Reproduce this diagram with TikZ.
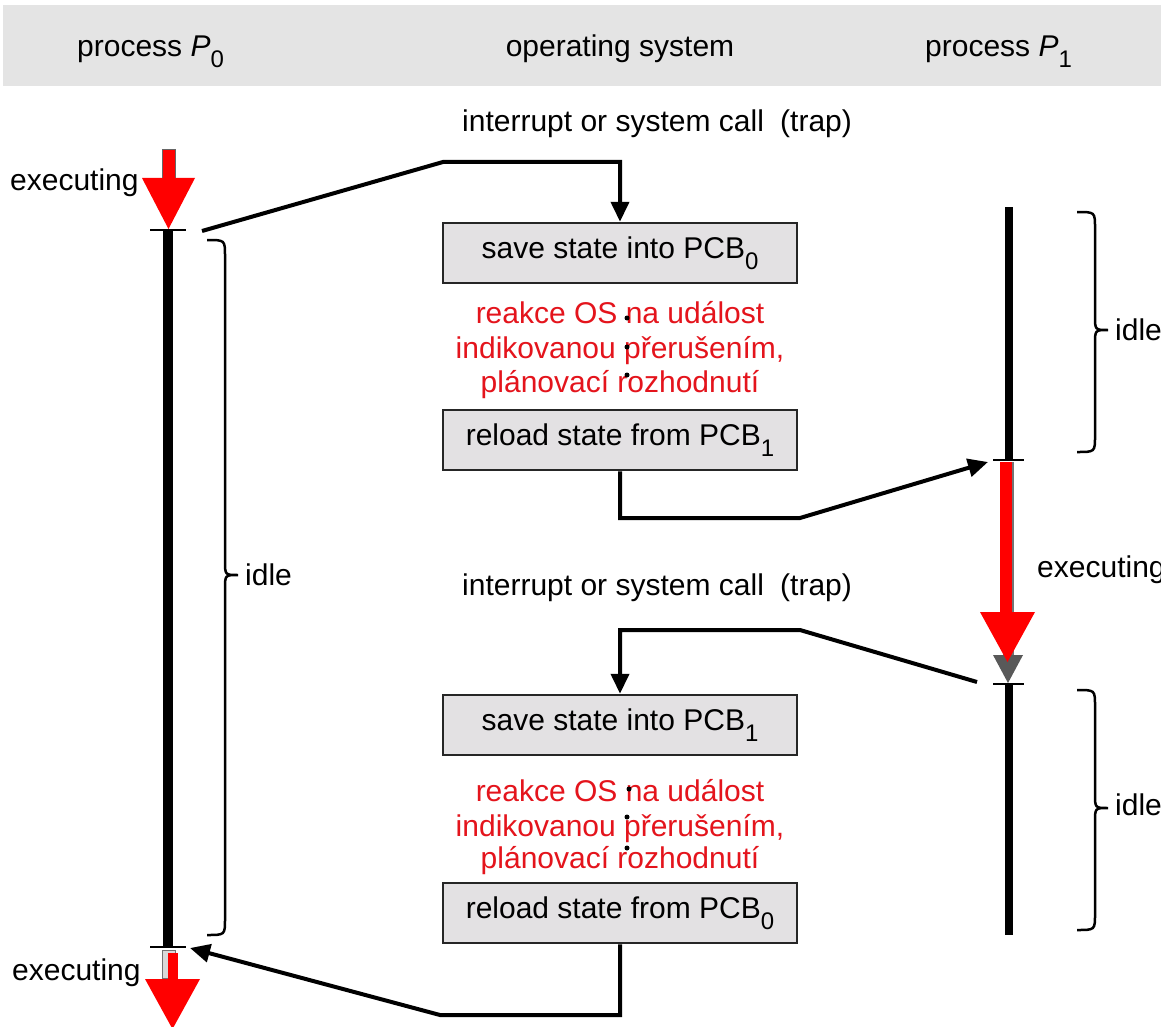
\documentclass[tikz,border=0pt]{standalone}
\usepackage{fontspec}
\setmainfont{Liberation Sans}
\usetikzlibrary{arrows.meta}
\definecolor{band}{HTML}{E4E4E4}
\definecolor{boxfill}{HTML}{E3E1E3}
\definecolor{notered}{RGB}{228,20,28}
\definecolor{runred}{RGB}{255,0,0}
% lowered index digit
\newcommand\lowsub[1]{\raisebox{-11pt}{\fontsize{24}{24}\selectfont #1}}
% right curly brace: x of the open end, top y, bottom y, y of the tip
\newcommand\idlebrace[4]{%
  \draw[bracket] (#1,#2) .. controls (#1+18,#2) .. (#1+18,#2+16)
    -- (#1+18,#4-14) .. controls (#1+18,#4) .. (#1+31,#4)
    .. controls (#1+18,#4) .. (#1+18,#4+14)
    -- (#1+18,#3-16) .. controls (#1+18,#3) .. (#1,#3);}
\begin{document}
\begin{tikzpicture}[x=1pt,y=-1pt,
  every node/.style={font=\fontsize{30}{36}\selectfont, inner sep=0pt},
  lbl/.style={anchor=base west},
  statebox/.style={draw=black!85, line width=2.5pt, fill=boxfill,
    minimum width=354pt, minimum height=60pt, anchor=center},
  note/.style={anchor=base, text=notered},
  conn/.style={line width=4pt, -{Triangle[length=20pt,width=18pt]}},
  pipe/.style={line width=10pt},
  tickmark/.style={line width=2.5pt},
  bracket/.style={line width=2.5pt},
]
\useasboundingbox (0,0) rectangle (1161,1027);
\fill[white] (0,0) rectangle (1161,1027);

% header band
\fill[band] (3,5) rectangle (1161,86);
\node[lbl] (hp0) at (77,57) {process \textit{P}\lowsub{0}};
\node[anchor=base] (hos) at (620,57) {operating system};
\node[lbl] (hp1) at (925,57) {process \textit{P}\lowsub{1}};

% time lines of the two processes
\draw[pipe] (168,230) -- (168,947);
\draw[line width=8pt] (1009,207) -- (1009,460);
\draw[line width=8pt] (1009,684) -- (1009,935);
\draw[tickmark] (150,230) -- (186,230);
\draw[tickmark] (150,947) -- (186,947);
\draw[tickmark] (993,460) -- (1024,460);
\draw[tickmark] (993,684) -- (1024,684);

\coordinate (p0out) at (202,231);
\coordinate (p1in) at (988,462);
\coordinate (p1out) at (977,682);
\coordinate (p0in) at (190,948);

% idle braces
\idlebrace{207}{240}{935}{575}
\idlebrace{1077}{212}{452}{330}
\idlebrace{1077}{690}{930}{808}
\node[lbl] (idle0) at (245,585) {idle};
\node[lbl] (idle1) at (1115,340) {idle};
\node[lbl] (idle2) at (1115,815) {idle};

% labels
\node[lbl] (ex0) at (10,190) {executing};
\node[lbl] (ex1) at (12,980) {executing};
\node[lbl] (ex2) at (1037,577) {executing};
\node[lbl] (trap0) at (462,132) {interrupt or system call\hspace{8pt} (trap)};
\node[lbl] (trap1) at (462,595) {interrupt or system call\hspace{8pt} (trap)};

% operating system steps
\node[statebox] (s0) at (620,253) {save state into PCB\lowsub{0}};
\node[statebox] (r1) at (620,440) {reload state from PCB\lowsub{1}};
\node[statebox] (s1) at (620,725) {save state into PCB\lowsub{1}};
\node[statebox] (r0) at (620,913) {reload state from PCB\lowsub{0}};

\node[note] (na1) at (620,323) {reakce OS na událost};
\node[note] (na2) at (620,358) {indikovanou přerušením,};
\node[note] (na3) at (620,392) {plánovací rozhodnutí};
\node[note] (nb1) at (620,801) {reakce OS na událost};
\node[note] (nb2) at (620,836) {indikovanou přerušením,};
\node[note] (nb3) at (620,868) {plánovací rozhodnutí};

\fill (627,318) circle (2.5pt) (627,347) circle (2.5pt) (627,375) circle (2.5pt);
\fill (629,789) circle (2.5pt) (627,817) circle (2.5pt) (627,848) circle (2.5pt);

% control transfers
\draw[conn] (p0out) -- (443,162) -| (s0.north);
\draw[conn] (r1.south) |- (800,518) -- (p1in);
\draw[conn] (p1out) -- (800,630) -| (s1.north);
\draw[conn] (r0.south) |- (440,1015) -- (p0in);

% executing arrows
\filldraw[fill=runred, draw=black!60, line width=1pt] (162,150) rectangle (175,179);
\fill[runred] (142,178) -- (195,178) -- (168.5,229) -- cycle;

\filldraw[fill=black!15, draw=black!55, line width=1pt] (162,950) rectangle (175,978);
\fill[runred] (168,953) rectangle (178,981);
\fill[runred] (145,979) -- (200,979) -- (172.5,1029) -- cycle;

\fill[black!55] (1003,462) rectangle (1014,656);
\fill[black!65] (993,655) -- (1023,655) -- (1008,683) -- cycle;
\fill[runred] (1000,462) rectangle (1012,613);
\fill[runred] (980,612) -- (1035,612) -- (1007.5,662) -- cycle;
\end{tikzpicture}
\end{document}
